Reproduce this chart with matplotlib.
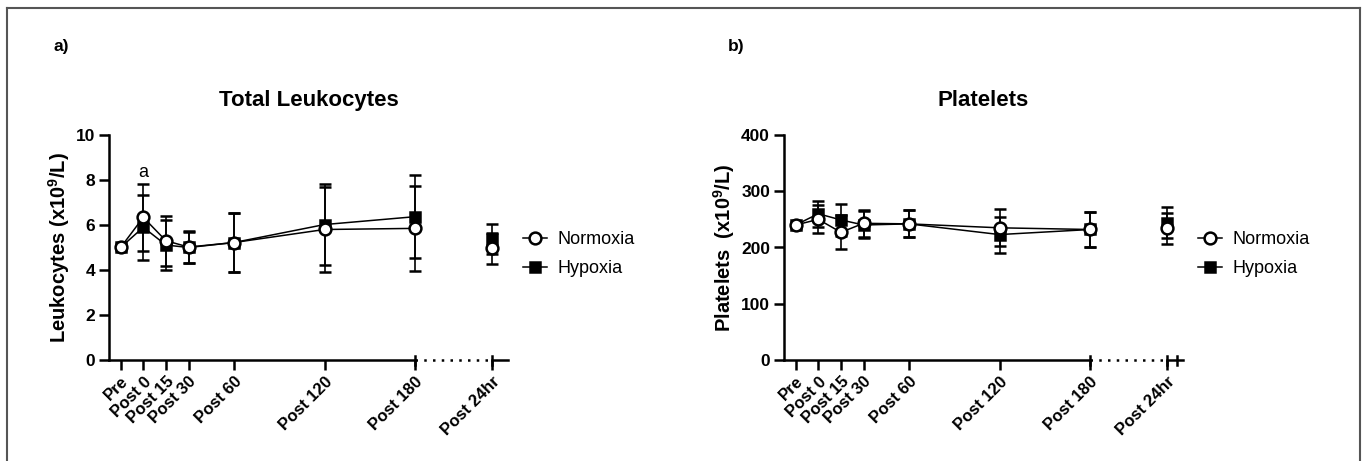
import matplotlib
matplotlib.use('Agg')
import matplotlib.pyplot as plt
from matplotlib.lines import Line2D
import numpy as np

plt.rcParams['font.family'] = ['Liberation Sans', 'DejaVu Sans']
plt.rcParams['mathtext.fontset'] = 'custom'
plt.rcParams['mathtext.rm'] = 'Liberation Sans:bold'
plt.rcParams['mathtext.bf'] = 'Liberation Sans:bold'

# time points (minutes); Post 24hr sits after an axis break
time_labels = ['Pre', 'Post 0', 'Post 15', 'Post 30', 'Post 60', 'Post 120', 'Post 180', 'Post 24hr']
time_pos = [-15, 0, 15, 30, 60, 120, 180, 231]

# Total leukocytes (x10^9/L)
leuko_norm = [5.0, 6.34, 5.30, 5.02, 5.22, 5.80, 5.85, 4.96]
leuko_norm_sd = [0.0, 1.50, 1.10, 0.73, 1.33, 1.90, 1.90, 0.70]
leuko_hyp = [5.0, 5.90, 5.11, 5.00, 5.22, 6.02, 6.37, 5.38]
leuko_hyp_sd = [0.0, 1.45, 1.10, 0.70, 1.33, 1.80, 1.85, 0.65]

# Platelets (x10^9/L)
plt_norm = [240, 250, 227, 243, 242, 235, 232, 234]
plt_norm_sd = [0, 25, 30, 24, 24, 33, 31, 28]
plt_hyp = [240, 260, 249, 240, 242, 223, 232, 244]
plt_hyp_sd = [0, 23, 29, 24, 24, 32, 31, 28]

W, H = 1365, 461
fig = plt.figure(figsize=(W / 100, H / 100), dpi=100)


def draw_panel(left_px, norm, norm_sd, hyp, hyp_sd, ymax, yticks, ylabel, title,
               letter, letter_x, annot=None, extra_break=None):
    ax = fig.add_axes([left_px / W, (H - 360) / H, 399 / W, 225 / H])
    ax.set_xlim(-22.7, 241.5)
    ax.set_ylim(0, ymax)

    for vals, sd, mk, zo in [(hyp, hyp_sd, 's', 3), (norm, norm_sd, 'o', 4)]:
        face = 'black' if mk == 's' else 'white'
        ms = 6.5 if mk == 's' else 8.5
        # connected points up to Post 180
        ax.errorbar(time_pos[:7], vals[:7], yerr=sd[:7], color='black', lw=1.1,
                    elinewidth=1.2, capsize=4.5, capthick=1.2, marker=mk, ms=ms,
                    mfc=face, mec='black', mew=1.8, zorder=zo, clip_on=False)
        ax.errorbar(time_pos[7:], vals[7:], yerr=sd[7:], color='black', lw=0,
                    elinewidth=1.2, capsize=4.5, capthick=1.2, marker=mk, ms=ms,
                    mfc=face, mec='black', mew=1.8, zorder=zo, clip_on=False)

    for s in ['top', 'right', 'bottom']:
        ax.spines[s].set_visible(False)
    ax.spines['left'].set_linewidth(1.8)

    # broken x axis
    tr = ax.get_xaxis_transform()
    ax.plot([-22.7, 180], [0, 0], color='black', lw=1.8, transform=tr, clip_on=False)
    ax.plot([180, 231], [0, 0], color='black', lw=1.8, ls=(0, (1, 2.5)), transform=tr, clip_on=False)
    ax.plot([231, 241.5], [0, 0], color='black', lw=1.8, transform=tr, clip_on=False)
    brk = [180, 231] + ([extra_break] if extra_break else [])
    for b in brk:
        ax.plot([b, b], [-0.02, 0.02], color='black', lw=1.8, transform=tr, clip_on=False)

    ax.set_xticks(time_pos)
    ax.set_xticklabels(time_labels, rotation=45, ha='right', rotation_mode='anchor',
                       fontsize=12, fontweight='bold')
    ax.set_yticks(yticks)
    ax.set_yticklabels([str(t) for t in yticks], fontsize=12.5, fontweight='bold')
    ax.tick_params(axis='both', direction='out', length=7, width=1.8, pad=3)

    ax.set_ylabel(ylabel, fontsize=14.5, fontweight='bold', labelpad=3)
    ax.set_title(title, fontsize=16, fontweight='bold', pad=21)

    if annot:
        ax.text(annot[0], annot[1], annot[2], ha='center', va='center', fontsize=13)

    handles = [Line2D([], [], color='black', lw=1.1, marker='o', ms=8.5, mfc='white', mec='black', mew=1.8),
               Line2D([], [], color='black', lw=1.1, marker='s', ms=6.5, mfc='black', mec='black', mew=1.8)]
    ax.legend(handles, ['Normoxia', 'Hypoxia'], loc='center left', bbox_to_anchor=(1.037, 0.471),
              frameon=False, fontsize=13, handlelength=1.35, handletextpad=0.6,
              labelspacing=0.65, borderpad=0, borderaxespad=0)

    fig.text(letter_x / W, 1 - 47 / H, letter, fontsize=12.5, fontweight='bold', va='center')
    return ax


draw_panel(109, leuko_norm, leuko_norm_sd, leuko_hyp, leuko_hyp_sd, 10, [0, 2, 4, 6, 8, 10],
           r'Leukocytes (x10$^{9}$/L)', 'Total Leukocytes', 'a)', 53, annot=(0, 8.35, 'a'))
draw_panel(784, plt_norm, plt_norm_sd, plt_hyp, plt_hyp_sd, 400, [0, 100, 200, 300, 400],
           r'Platelets  (x10$^{9}$/L)', 'Platelets', 'b)', 728, extra_break=237.7)

# outer frame
fc = '#555555'
fig.add_artist(Line2D([7 / W, 7 / W], [0, 1 - 8 / H], color=fc, lw=1.5))
fig.add_artist(Line2D([7 / W, 1360 / W], [1 - 8 / H, 1 - 8 / H], color=fc, lw=1.5))
fig.add_artist(Line2D([1360 / W, 1360 / W], [0, 1 - 8 / H], color=fc, lw=1.5))

fig.savefig('out.png', dpi=100)
